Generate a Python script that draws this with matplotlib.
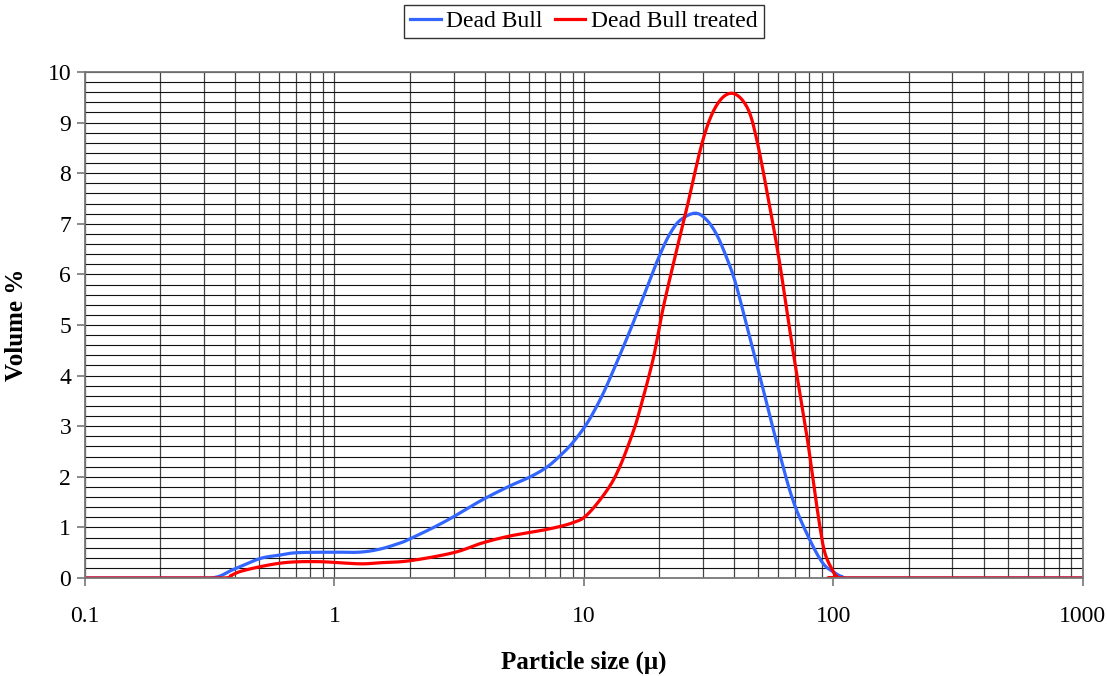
import numpy as np
import matplotlib
matplotlib.use("Agg")
import matplotlib.pyplot as plt
from matplotlib.ticker import FixedLocator, FuncFormatter, MultipleLocator

# particle size distribution

size_blue = [0.1, 0.2, 0.32, 0.39, 0.5, 0.6, 0.71, 1.0, 1.26, 1.52, 1.83,
             2.0, 2.5, 3.0, 3.9, 5.05, 6.1, 7.1, 8.0, 9.0, 10.3, 11.6, 12.7,
             14.9, 16.7, 18.4, 20.2, 22.1, 24.3, 27.9, 31.0, 34.1, 37.4,
             40.3, 43.4, 50.0, 59.3, 68.8, 80.5, 90.8, 100.0, 109.0, 120.0,
             1000.0]
vol_blue = [0, 0, 0, 0.16, 0.38, 0.45, 0.5, 0.51, 0.51, 0.57, 0.69,
            0.77, 1.0, 1.21, 1.54, 1.82, 2.0, 2.19, 2.41, 2.67, 3.06, 3.52, 3.94,
            4.75, 5.36, 5.9, 6.4, 6.8, 7.07, 7.21, 7.08, 6.78, 6.32,
            5.87, 5.28, 4.11, 2.67, 1.54, 0.75, 0.29, 0.12, 0.02, 0,
            0]

size_red = [0.1, 0.2, 0.36, 0.385, 0.42, 0.5, 0.6, 0.71, 0.9, 1.26, 1.5, 2.0,
            3.0, 3.9, 5.05, 7.1, 9.0, 10.3, 12.4, 13.9, 15.7, 16.7, 18.9,
            20.7, 22.8, 25.9, 30.0, 34.1, 39.2, 45.0, 49.3, 55.6, 61.0,
            68.8, 78.3, 82.8, 88.3, 92.5, 99.0, 104.0, 115.0, 1000.0]
vol_red = [0, 0, 0, 0.05, 0.13, 0.22, 0.29, 0.32, 0.32, 0.28, 0.30, 0.34,
           0.5, 0.69, 0.83, 0.96, 1.09, 1.25, 1.74, 2.19, 2.87, 3.3, 4.31,
           5.30, 6.2, 7.33, 8.66, 9.35, 9.58, 9.31, 8.66, 7.33, 6.2,
           4.5, 2.8, 1.95, 1.01, 0.49, 0.16, 0.02, 0, 0]

labels = ["Dead Bull", "Dead Bull treated"]
colors = ["#3366FF", "#FF0000"]


# smoothed line like the spreadsheet's "smoothed line" option
# (Catmull-Rom through the read points, in log-x space)
def smooth(xs, ys, n=12):
    lx = np.log10(np.asarray(xs, float))
    y = np.asarray(ys, float)
    px = np.concatenate([[lx[0]], lx, [lx[-1]]])
    py = np.concatenate([[y[0]], y, [y[-1]]])
    out_x, out_y = [], []
    t = np.linspace(0, 1, n, endpoint=False)
    for i in range(1, len(px) - 2):
        for arr, out in ((px, out_x), (py, out_y)):
            p0, p1, p2, p3 = arr[i - 1], arr[i], arr[i + 1], arr[i + 2]
            out.extend(0.5 * ((2 * p1) + (-p0 + p2) * t
                              + (2 * p0 - 5 * p1 + 4 * p2 - p3) * t ** 2
                              + (-p0 + 3 * p1 - 3 * p2 + p3) * t ** 3))
    out_x.append(lx[-1])
    out_y.append(y[-1])
    return 10 ** np.array(out_x), np.clip(np.array(out_y), 0, None)


plt.rcParams["font.family"] = ["Liberation Serif", "DejaVu Serif"]

fig = plt.figure(figsize=(11.07, 6.76), dpi=100)
ax = fig.add_axes([0.0768, 0.145, 0.9014, 0.7485])

bx, by = smooth(size_blue, vol_blue)
rx, ry = smooth(size_red, vol_red)
ax.plot(bx, by, color=colors[0], lw=2.3, label=labels[0],
        solid_joinstyle="round")
ax.plot(rx, ry, color=colors[1], lw=2.3, label=labels[1],
        solid_joinstyle="round")

ax.set_xscale("log")
ax.set_xlim(0.1, 1000)
ax.set_ylim(0, 10)

# major / minor ticks and grid
ax.xaxis.set_major_locator(FixedLocator([0.1, 1, 10, 100, 1000]))
ax.xaxis.set_major_formatter(FuncFormatter(lambda v, p: "%g" % v))
minor_x = [m * 10.0 ** e for e in range(-1, 3) for m in range(2, 10)]
ax.xaxis.set_minor_locator(FixedLocator(minor_x))
ax.xaxis.set_minor_formatter(FuncFormatter(lambda v, p: ""))
ax.yaxis.set_major_locator(MultipleLocator(1))
ax.yaxis.set_minor_locator(MultipleLocator(0.2))

ax.grid(True, which="both", axis="y", color="#111111", lw=0.8)
ax.grid(True, which="both", axis="x", color="#444444", lw=0.9)
ax.set_axisbelow(True)

ax.tick_params(axis="both", which="major", labelsize=17, length=6,
               width=1.2, color="#777777", direction="out")
ax.tick_params(axis="both", which="minor", length=0)
ax.tick_params(axis="x", pad=14)
ax.tick_params(axis="y", pad=4)

for side in ["left", "bottom", "top", "right"]:
    ax.spines[side].set_color("#777777")
    ax.spines[side].set_linewidth(1.3)

ax.set_xlabel("Particle size (\u03bc)", fontsize=18, fontweight="bold",
              labelpad=17)
ax.set_ylabel("Volume %", fontsize=18, fontweight="bold", labelpad=14)

leg = fig.legend(loc="upper center", bbox_to_anchor=(0.5275, 0.993), ncol=2,
                 fontsize=17, frameon=True, fancybox=False, handlelength=1.3,
                 handletextpad=0.25, columnspacing=0.5, borderpad=0.25,
                 borderaxespad=0, handleheight=0.6)
leg.get_frame().set_edgecolor("black")
leg.get_frame().set_linewidth(1.0)

fig.savefig("out.png", dpi=100)
